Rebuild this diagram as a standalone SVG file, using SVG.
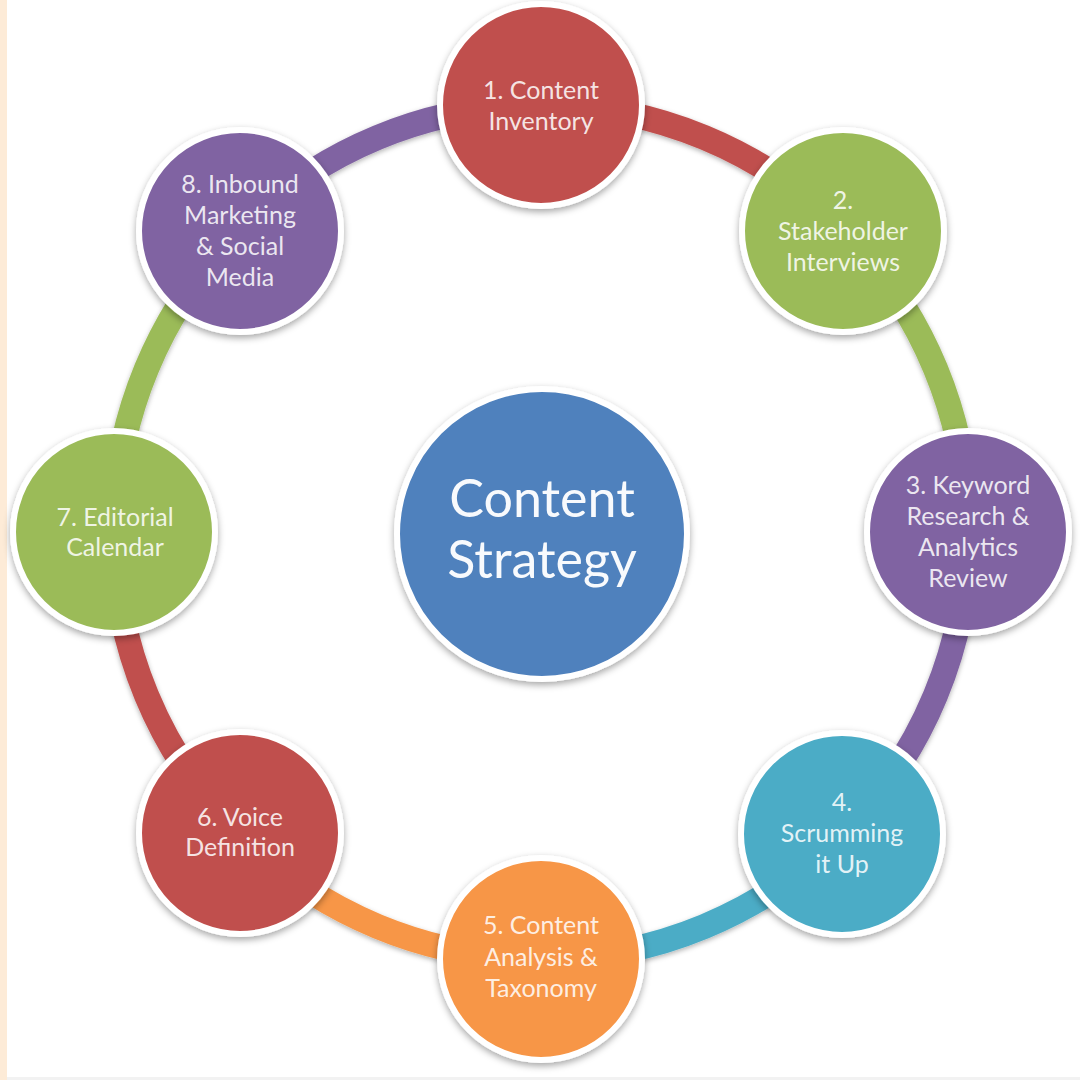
<svg xmlns="http://www.w3.org/2000/svg" width="1080" height="1080" viewBox="0 0 1080 1080">
<defs>
<filter id="sh" x="-20%" y="-20%" width="140%" height="140%">
<feDropShadow dx="0" dy="3" stdDeviation="3.5" flood-color="#000" flood-opacity="0.35"/>
</filter>
<filter id="ash" x="-10%" y="-10%" width="120%" height="120%">
<feDropShadow dx="0" dy="2" stdDeviation="2.5" flood-color="#000" flood-opacity="0.3"/>
</filter>
<style>
.arc{fill:none;stroke-width:25;stroke-linecap:butt}
.node{stroke:#FFFFFF;stroke-width:6}
.lbl{font-family:Lato,"Open Sans","Liberation Sans",sans-serif;font-size:25px;fill:#FFFFFF;fill-opacity:0.86;text-anchor:middle}
.big{font-family:Lato,"Open Sans","Liberation Sans",sans-serif;font-size:52px;fill:#FFFFFF;fill-opacity:0.96;text-anchor:middle}
.red{fill:#C0504D}.green{fill:#9BBB59}.purple{fill:#8064A2}.teal{fill:#4BACC6}.orange{fill:#F79646}.blue{fill:#4F81BD}
</style>
</defs>
<rect x="0" y="0" width="1080" height="1080" fill="#FFFFFF"/>
<rect x="0" y="0" width="7" height="1080" fill="#FDEBD7"/>
<rect x="7" y="1077" width="1073" height="3" fill="#F2F2F2"/>

<g id="connectors" filter="url(#ash)">
<path class="arc" stroke="#C0504D" d="M541,105 A427,427 0 0 1 842.9,230.1"/>
<path class="arc" stroke="#9BBB59" d="M842.9,230.1 A427,427 0 0 1 968,532"/>
<path class="arc" stroke="#8064A2" d="M968,532 A427,427 0 0 1 842.9,833.9"/>
<path class="arc" stroke="#4BACC6" d="M842.9,833.9 A427,427 0 0 1 541,959"/>
<path class="arc" stroke="#F79646" d="M541,959 A427,427 0 0 1 239.1,833.9"/>
<path class="arc" stroke="#C0504D" d="M239.1,833.9 A427,427 0 0 1 114,532"/>
<path class="arc" stroke="#9BBB59" d="M114,532 A427,427 0 0 1 239.1,230.1"/>
<path class="arc" stroke="#8064A2" d="M239.1,230.1 A427,427 0 0 1 541,105"/>
</g>

<g id="center">
<circle class="node blue" cx="542" cy="534" r="145" filter="url(#sh)"/>
<text class="big" x="542" y="517">Content</text>
<text class="big" x="542" y="578">Strategy</text>
</g>

<g id="node1">
<circle class="node red" cx="541" cy="105" r="101" filter="url(#sh)"/>
<text class="lbl" x="541" y="98.5">1. Content</text>
<text class="lbl" x="541" y="129.5">Inventory</text>
</g>

<g id="node2">
<circle class="node green" cx="843" cy="231" r="101" filter="url(#sh)"/>
<text class="lbl" x="843" y="209">2.</text>
<text class="lbl" x="843" y="240">Stakeholder</text>
<text class="lbl" x="843" y="271">Interviews</text>
</g>

<g id="node3">
<circle class="node purple" cx="968" cy="532" r="101" filter="url(#sh)"/>
<text class="lbl" x="968" y="494">3. Keyword</text>
<text class="lbl" x="968" y="525">Research &amp;</text>
<text class="lbl" x="968" y="556">Analytics</text>
<text class="lbl" x="968" y="587">Review</text>
</g>

<g id="node4">
<circle class="node teal" cx="842" cy="834" r="101" filter="url(#sh)"/>
<text class="lbl" x="842" y="811">4.</text>
<text class="lbl" x="842" y="842">Scrumming</text>
<text class="lbl" x="842" y="873">it Up</text>
</g>

<g id="node5">
<circle class="node orange" cx="541" cy="959" r="101" filter="url(#sh)"/>
<text class="lbl" x="541" y="934">5. Content</text>
<text class="lbl" x="541" y="965.5">Analysis &amp;</text>
<text class="lbl" x="541" y="997">Taxonomy</text>
</g>

<g id="node6">
<circle class="node red" cx="240" cy="833" r="101" filter="url(#sh)"/>
<text class="lbl" x="240" y="825.5">6. Voice</text>
<text class="lbl" x="240" y="856">Definition</text>
</g>

<g id="node7">
<circle class="node green" cx="114" cy="532" r="101" filter="url(#sh)"/>
<text class="lbl" x="115" y="525.5">7. Editorial</text>
<text class="lbl" x="115" y="556">Calendar</text>
</g>

<g id="node8">
<circle class="node purple" cx="240" cy="231" r="101" filter="url(#sh)"/>
<text class="lbl" x="240" y="192.5">8. Inbound</text>
<text class="lbl" x="240" y="223.5">Marketing</text>
<text class="lbl" x="240" y="254.5">&amp; Social</text>
<text class="lbl" x="240" y="285.5">Media</text>
</g>
</svg>
